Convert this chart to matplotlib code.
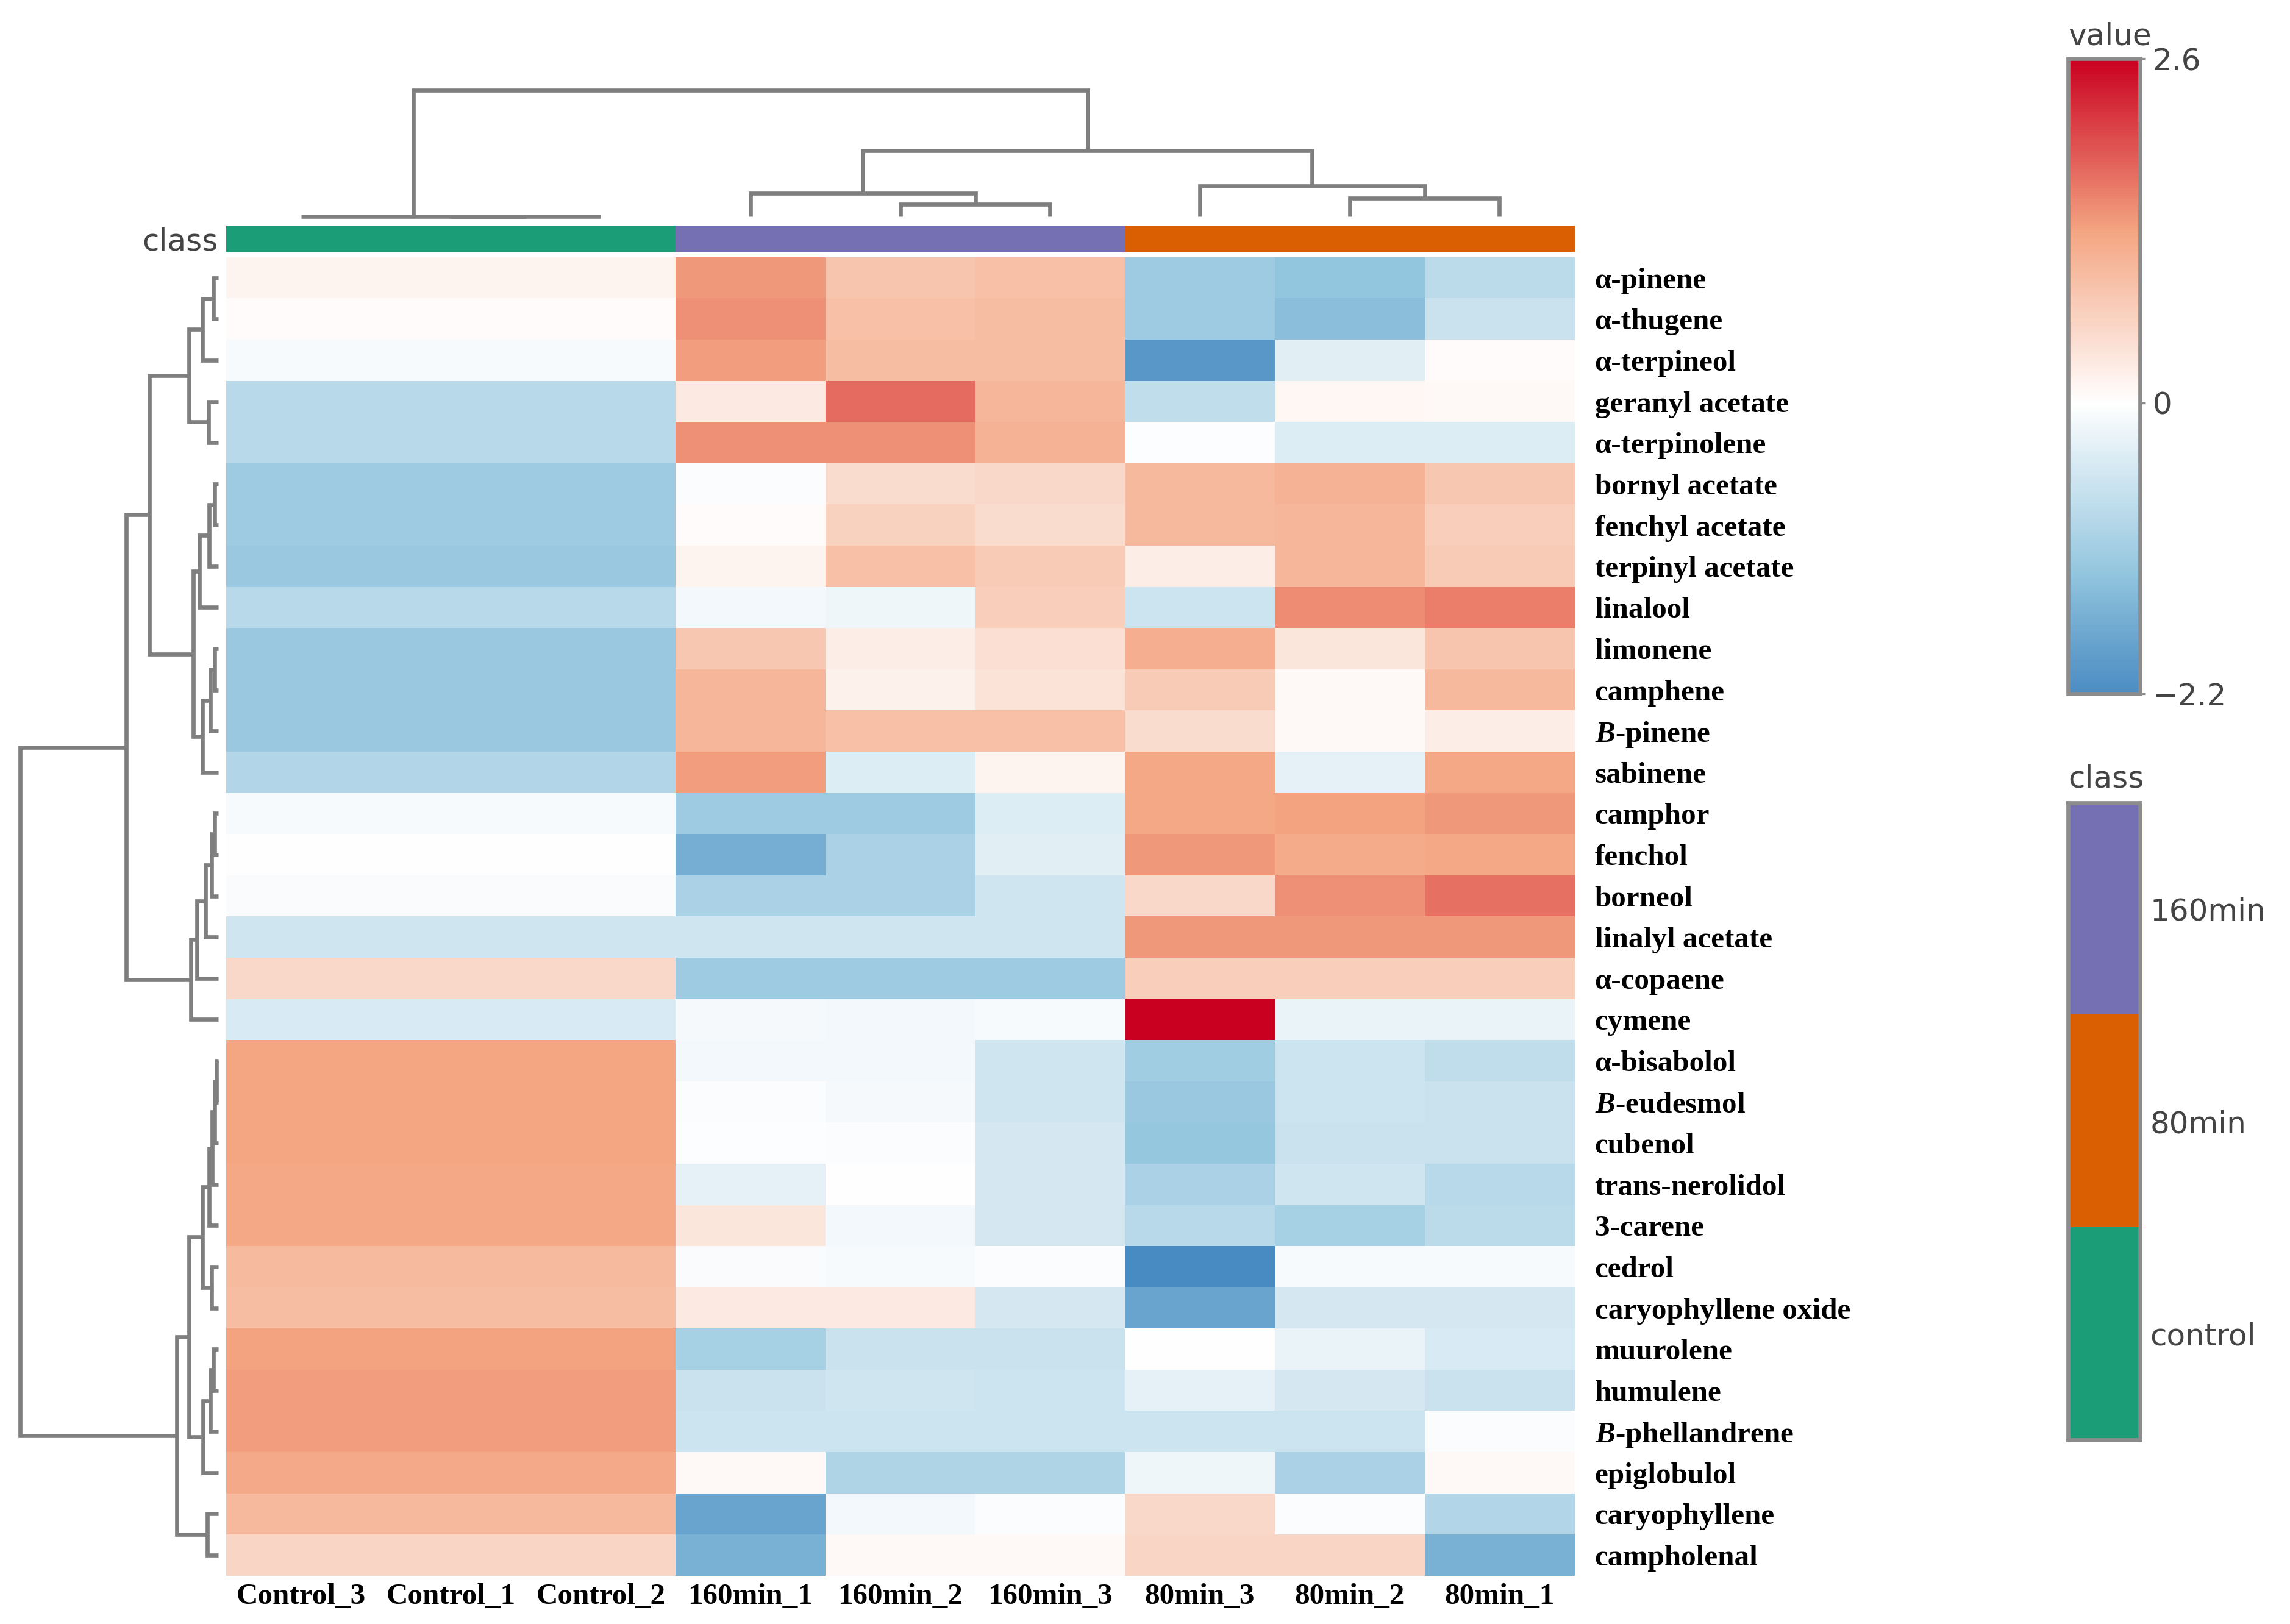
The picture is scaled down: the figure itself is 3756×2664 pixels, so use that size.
import numpy as np
import matplotlib
matplotlib.use('Agg')
import matplotlib.pyplot as plt
from matplotlib.colors import LinearSegmentedColormap, ListedColormap, Normalize
import matplotlib.cm as cm

plt.rcParams['mathtext.fontset'] = 'custom'
plt.rcParams['mathtext.it'] = 'Liberation Serif:italic:bold'
plt.rcParams['mathtext.rm'] = 'Liberation Serif:bold'

# ---- data ----
compounds = ['\u03b1-pinene', '\u03b1-thugene', '\u03b1-terpineol', 'geranyl acetate',
             '\u03b1-terpinolene', 'bornyl acetate', 'fenchyl acetate', 'terpinyl acetate',
             'linalool', 'limonene', 'camphene', r'$\mathit{B}$-pinene', 'sabinene',
             'camphor', 'fenchol', 'borneol', 'linalyl acetate', '\u03b1-copaene', 'cymene',
             '\u03b1-bisabolol', r'$\mathit{B}$-eudesmol', 'cubenol', 'trans-nerolidol',
             '3-carene', 'cedrol', 'caryophyllene oxide', 'muurolene', 'humulene',
             r'$\mathit{B}$-phellandrene', 'epiglobulol', 'caryophyllene', 'campholenal']

samples = ['Control_3', 'Control_1', 'Control_2', '160min_1', '160min_2', '160min_3',
           '80min_3', '80min_2', '80min_1']
sample_class = [2, 2, 2, 0, 0, 0, 1, 1, 1]
class_names = ['160min', '80min', 'control']
class_colors = ['#7570b3', '#d95f02', '#1b9e77']

control = [0.15, 0.05, -0.1, -0.85, -0.85, -1.15, -1.15, -1.2, -0.85, -1.2, -1.2, -1.2,
           -0.9, -0.1, -0.02, -0.07, -0.55, 0.55, -0.45, 1.28, 1.28, 1.28, 1.25, 1.25,
           0.98, 0.95, 1.32, 1.35, 1.35, 1.22, 1.0, 0.6]
m160_1 = [1.4, 1.45, 1.35, 0.3, 1.45, -0.05, 0.05, 0.15, -0.15, 0.8, 1.05, 1.05, 1.35,
          -1.15, -1.65, -1.0, -0.55, -1.15, -0.12, -0.15, -0.05, -0.03, -0.3, 0.35,
          -0.07, 0.3, -1.05, -0.65, -0.6, 0.1, -1.8, -1.6]
m160_2 = [0.85, 0.9, 0.95, 1.75, 1.45, 0.5, 0.65, 0.9, -0.2, 0.25, 0.2, 0.9, -0.4,
          -1.15, -1.0, -1.0, -0.55, -1.15, -0.15, -0.15, -0.12, -0.05, 0.0, -0.15,
          -0.1, 0.3, -0.65, -0.55, -0.6, -0.95, -0.15, 0.1]
m160_3 = [0.9, 0.95, 0.95, 1.05, 1.1, 0.55, 0.5, 0.75, 0.7, 0.45, 0.4, 0.9, 0.15,
          -0.4, -0.35, -0.55, -0.55, -1.15, -0.1, -0.55, -0.55, -0.5, -0.5, -0.5,
          -0.05, -0.5, -0.65, -0.6, -0.6, -0.95, -0.05, 0.1]
m80_3 = [-1.15, -1.15, -2.0, -0.75, -0.03, 1.0, 1.0, 0.25, -0.6, 1.15, 0.75, 0.5, 1.25,
         1.25, 1.4, 0.55, 1.4, 0.7, 2.6, -1.1, -1.2, -1.25, -1.0, -0.85, -2.2, -1.8,
         0.0, -0.3, -0.6, -0.2, 0.55, 0.6]
m80_2 = [-1.3, -1.4, -0.35, 0.12, -0.4, 1.1, 1.05, 1.05, 1.5, 0.35, 0.1, 0.1, -0.3,
         1.3, 1.2, 1.45, 1.4, 0.7, -0.25, -0.6, -0.6, -0.65, -0.55, -1.05, -0.1, -0.5,
         -0.25, -0.5, -0.6, -1.0, -0.05, 0.6]
m80_1 = [-0.8, -0.65, 0.05, 0.1, -0.4, 0.8, 0.7, 0.75, 1.6, 0.85, 1.0, 0.25, 1.25,
         1.4, 1.25, 1.7, 1.4, 0.7, -0.25, -0.75, -0.65, -0.65, -0.85, -0.8, -0.1, -0.5,
         -0.45, -0.65, -0.05, 0.1, -0.9, -1.6]

# dendrogram merges: (child a, child b, height); ids >= n are earlier merges
row_merges = [(0, 1, 8), (32, 2, 26), (3, 4, 16), (33, 34, 48),
              (5, 6, 6), (36, 7, 15), (37, 8, 31), (9, 10, 6), (39, 11, 13), (40, 12, 26),
              (38, 41, 41), (35, 42, 113),
              (13, 14, 6), (44, 15, 11), (45, 16, 21), (46, 17, 35), (47, 18, 45),
              (43, 48, 151),
              (19, 20, 3), (50, 21, 6), (51, 22, 10), (52, 23, 15), (24, 25, 11),
              (53, 54, 26), (26, 27, 8), (56, 28, 13), (57, 29, 25), (55, 58, 48),
              (30, 31, 18), (59, 60, 68),
              (49, 61, 325)]
col_merges = [(1, 2, 0), (0, 9, 0), (4, 5, 20), (3, 11, 38), (7, 8, 30), (6, 13, 50),
              (12, 14, 108), (10, 15, 207)]

data = np.column_stack([control, control, control, m160_1, m160_2, m160_3,
                        m80_3, m80_2, m80_1])
n_rows, n_cols = data.shape

cmap = LinearSegmentedColormap.from_list(
    'rdbu5', ['#2a72b7', '#92c5de', '#ffffff', '#f4a582', '#ca0020'])
norm = Normalize(-2.6, 2.6)
class_cmap = ListedColormap(class_colors)

serif_bold = dict(family='Liberation Serif', weight='bold', size=11.8, color='black')
sans_grey = dict(family='DejaVu Sans', size=12, color='#444444')
line_col = '#7f7f7f'


def draw_dendro(ax, merges, n, side):
    pos = {i: i + 0.5 for i in range(n)}
    hgt = {i: 0.0 for i in range(n)}
    for k, (a, b, h) in enumerate(merges):
        pa, pb = pos[a], pos[b]
        ha, hb = hgt[a], hgt[b]
        xs = [pa, pa, pb, pb]
        ys = [ha, h, h, hb]
        if side == 'left':
            xs, ys = ys, xs
        ax.plot(xs, ys, color=line_col, lw=1.6, clip_on=False,
                solid_joinstyle='miter', solid_capstyle='butt')
        pos[n + k] = (pa + pb) / 2
        hgt[n + k] = h


fig = plt.figure(figsize=(12.52, 8.88), dpi=300)

# heatmap
ax = fig.add_axes([0.0988, 0.0297, 0.5887, 0.8119])
ax.imshow(data, cmap=cmap, norm=norm, aspect='auto', interpolation='nearest',
          extent=(0, n_cols, n_rows, 0))
ax.set_xlim(0, n_cols)
ax.set_ylim(n_rows, 0)
ax.yaxis.tick_right()
ax.set_yticks(np.arange(n_rows) + 0.5)
ax.set_yticklabels(compounds, **serif_bold)
ax.set_xticks(np.arange(n_cols) + 0.5)
ax.set_xticklabels(samples, **serif_bold)
ax.tick_params(length=0)
ax.tick_params(axis='y', pad=8)
ax.tick_params(axis='x', pad=3)
for s in ax.spines.values():
    s.set_visible(False)

# class strip
ax_cls = fig.add_axes([0.0988, 0.845, 0.5887, 0.016])
ax_cls.imshow([sample_class], cmap=class_cmap, vmin=-0.5, vmax=2.5, aspect='auto',
              interpolation='nearest', extent=(0, n_cols, 1, 0))
ax_cls.set_axis_off()
fig.text(0.0953, 0.851, 'class', ha='right', va='center', **sans_grey)

# column dendrogram
ax_top = fig.add_axes([0.0988, 0.8667, 0.5887, 0.0777])
draw_dendro(ax_top, col_merges, n_cols, 'top')
ax_top.set_xlim(0, n_cols)
ax_top.set_ylim(0, 207)
ax_top.set_axis_off()

# row dendrogram
ax_left = fig.add_axes([0.0088, 0.0297, 0.0865, 0.8119])
draw_dendro(ax_left, row_merges, n_rows, 'left')
ax_left.set_xlim(325, 0)
ax_left.set_ylim(n_rows, 0)
ax_left.set_axis_off()

# value colorbar
cax = fig.add_axes([0.9031, 0.5728, 0.0314, 0.3911])
sm = cm.ScalarMappable(norm=norm, cmap=cmap)
cb = fig.colorbar(sm, cax=cax, boundaries=np.linspace(-2.2, 2.6, 241))
cb.set_ticks([2.6, 0, -2.2])
cb.set_ticklabels(['2.6', '0', '\u22122.2'])
cb.outline.set_edgecolor('#8c8c8c')
cb.outline.set_linewidth(1.6)
cax.tick_params(length=2, width=0.8, color='#8c8c8c', pad=3, labelsize=12,
                labelcolor='#444444')
cax.text(0.0, 1.012, 'value', transform=cax.transAxes, ha='left', va='bottom', **sans_grey)

# class legend
lax = fig.add_axes([0.9031, 0.1134, 0.0314, 0.3923])
lax.imshow(np.arange(len(class_names)).reshape(-1, 1), cmap=class_cmap, vmin=-0.5,
           vmax=2.5, aspect='auto', interpolation='nearest',
           extent=(0, 1, len(class_names), 0))
lax.set_xticks([])
lax.yaxis.tick_right()
lax.set_yticks(np.arange(len(class_names)) + 0.5)
lax.set_yticklabels(class_names, **sans_grey)
lax.tick_params(length=0, pad=4)
for s in lax.spines.values():
    s.set_edgecolor('#8c8c8c')
    s.set_linewidth(1.6)
lax.text(0.0, 1.015, 'class', transform=lax.transAxes, ha='left', va='bottom', **sans_grey)

fig.savefig('out.png', dpi=300, facecolor='white')
